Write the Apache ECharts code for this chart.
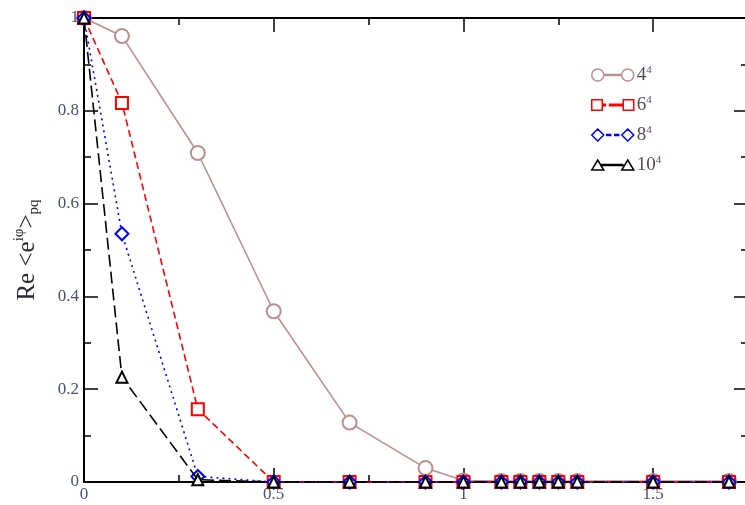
<!DOCTYPE html>
<html>
<head>
<meta charset="utf-8">
<script src="https://cdn.jsdelivr.net/npm/echarts@6/dist/echarts.min.js"></script>
<style>html,body{margin:0;padding:0;background:#fff}#c{width:745px;height:505px}</style>
</head>
<body>
<div id="c"></div>
<script>
// Data
const xs = [0, 0.1, 0.3, 0.5, 0.7, 0.9, 1.0, 1.1, 1.15, 1.2, 1.25, 1.3, 1.5, 1.7];
const s4  = [1, 0.961, 0.709, 0.368, 0.128, 0.03, 0.003, 0.002, 0.002, 0.002, 0.002, 0.002, 0.002, 0.002];
const s6  = [1, 0.817, 0.157, 0, 0, 0, 0, 0, 0, 0, 0, 0, 0, 0];
const s8  = [1, 0.535, 0.012, 0, 0, 0, 0, 0, 0, 0, 0, 0, 0, 0];
const s10 = [1, 0.226, 0.005, 0, 0, 0, 0, 0, 0, 0, 0, 0, 0, 0];
const names = ['4', '6', '8', '10'];
const xTicks = [0, 0.5, 1, 1.5];
const yTicks = [0, 0.2, 0.4, 0.6, 0.8, 1];

const pair = (arr) => xs.map((x, i) => [x, arr[i]]);
const serif = '"Liberation Serif","DejaVu Serif",serif';
const labCol = '#4a5270';

// legend icons: symbol - line - symbol
const seg = (a, b) => 'M' + a + ',5.4 H' + b + ' V6.6 H' + a + ' Z ';
const icons = [
  'path://M0,6 A6,6 0 1 0 12,6 A6,6 0 1 0 0,6 Z ' + seg(12, 30) + 'M30,6 A6,6 0 1 0 42,6 A6,6 0 1 0 30,6 Z',
  'path://M1,1 H11 V11 H1 Z ' + seg(11, 14) + seg(18, 31) + 'M31,1 H41 V11 H31 Z',
  'path://M6,0 L12,6 L6,12 L0,6 Z ' + seg(15, 19) + seg(23, 27) + 'M36,0 L42,6 L36,12 L30,6 Z',
  'path://M6,1 L12,11 L0,11 Z ' + seg(9, 31) + 'M36,1 L42,11 L30,11 Z'
];

const chart = echarts.init(document.getElementById('c'));
const axisCommon = () => ({
  axisLine: {show: true, onZero: false, lineStyle: {color: '#000', width: 2}},
  axisTick: {show: true, inside: true, length: 14, lineStyle: {color: '#000', width: 1.5}},
  minorTick: {show: true, splitNumber: 2, length: 7, lineStyle: {color: '#000', width: 1.5}},
  splitLine: {show: false}
});
function mk(name, data, color, type, symbol, size, z) {
  return {
    name: name, type: 'line', data: data, z: z, clip: false,
    symbol: symbol, symbolSize: size,
    lineStyle: {color: color, width: 1.6, type: type},
    itemStyle: {color: color, borderColor: color, borderWidth: 1.6}
  };
}
chart.setOption({
  animation: false,
  grid: {left: 84, top: 18, width: 664, height: 464, outerBoundsMode: 'none', containLabel: false},
  legend: {
    orient: 'vertical', left: 586, top: 60, itemWidth: 42, itemHeight: 12, itemGap: 10,
    data: names.map((n, i) => ({name: n + '^4', icon: icons[i]})),
    itemStyle: {color: '#fff', borderColor: 'inherit', borderWidth: 1.5},
    formatter: (n) => '{b|' + n.split('^')[0] + '}{s|4}',
    textStyle: {
      color: labCol, fontFamily: serif, lineHeight: 20, padding: [0, 0, 0, -2],
      rich: {b: {fontSize: 19, fontFamily: serif, color: '#5a4a50', lineHeight: 20, verticalAlign: 'bottom'},
             s: {fontSize: 11, fontFamily: serif, color: '#4a5270', lineHeight: 20, verticalAlign: 'top'}}
    }
  },
  xAxis: [
    Object.assign({type: 'value', min: 0, max: 1.75, interval: 0.5, position: 'bottom',
      axisLabel: {color: labCol, fontFamily: serif, fontSize: 17, margin: 4,
        formatter: (v) => xTicks.indexOf(v) >= 0 ? String(v) : ''}}, axisCommon()),
    Object.assign({type: 'value', min: 0, max: 1.75, interval: 0.5, position: 'top',
      axisLabel: {show: false}}, axisCommon())
  ],
  yAxis: [
    Object.assign({type: 'value', min: 0, max: 1, interval: 0.2, position: 'left',
      name: '{r|Re <e}{sup|iφ}{r|>}{sub|pq}', nameLocation: 'middle', nameGap: 41, nameRotate: 90,
      nameTextStyle: {fontFamily: serif, color: '#333',
        rich: {r: {fontSize: 25, fontFamily: serif, color: '#2a2a38'},
               sup: {fontSize: 15, fontFamily: serif, color: '#2a2a38', padding: [0,0,16,0]},
               sub: {fontSize: 15, fontFamily: serif, color: '#2a2a38', padding: [14,0,0,0]}}},
      axisLabel: {color: labCol, fontFamily: serif, fontSize: 17, margin: 5,
        formatter: (v) => yTicks.some(t => Math.abs(t - v) < 1e-9) ? String(+v.toFixed(1)) : ''}}, axisCommon()),
    Object.assign({type: 'value', min: 0, max: 1, interval: 0.2, position: 'right',
      axisLabel: {show: false}}, axisCommon())
  ],
  series: [
    mk('4^4', pair(s4), '#bc8f8f', 'solid', 'emptyCircle', 14, 2),
    mk('6^4', pair(s6), '#ff0000', [7, 4], 'emptyRect', 12, 3),
    mk('8^4', pair(s8), '#0000ff', [2, 4], 'emptyDiamond', 13, 4),
    mk('10^4', pair(s10), '#000000', [12, 5], 'emptyTriangle', 11, 5)
  ]
});
</script>
</body>
</html>
